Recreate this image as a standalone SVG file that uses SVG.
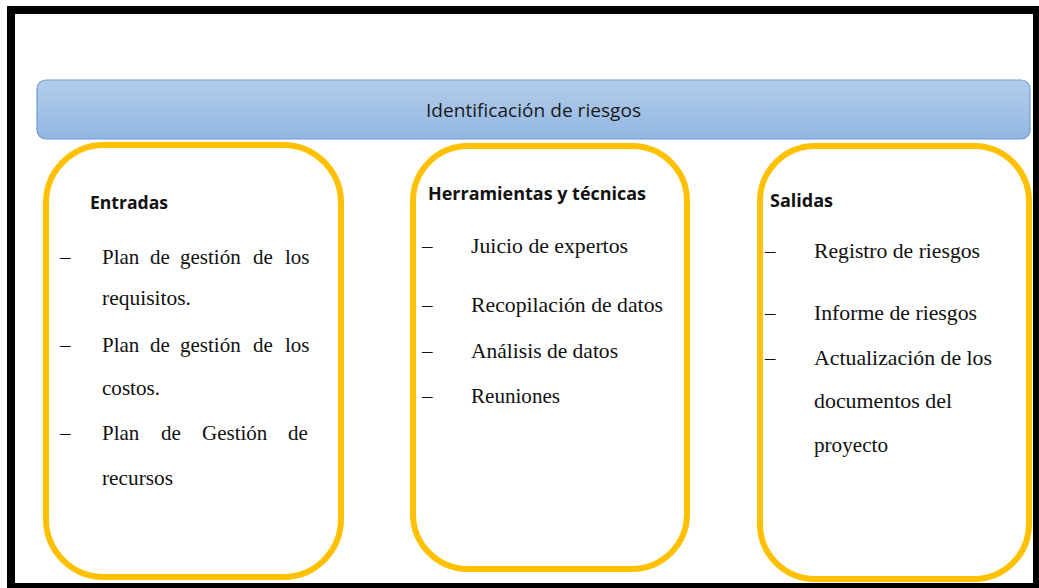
<svg xmlns="http://www.w3.org/2000/svg" width="1039" height="588" viewBox="0 0 1039 588">
<defs>
<linearGradient id="bannerGrad" x1="0" y1="0" x2="0" y2="1">
<stop offset="0" stop-color="#B3CDEA"/>
<stop offset="1" stop-color="#92B7E2"/>
</linearGradient>
<style>
.frame{fill:#FFFFFF;stroke:#000000;stroke-width:8}
.banner{fill:url(#bannerGrad);stroke:#6C9BD2;stroke-width:1.2}
.box{fill:#FFFFFF;stroke:#FFC000;stroke-width:6}
.title{font-family:"Open Sans","Liberation Sans",sans-serif;font-size:19px;fill:#1A1A1A}
.head{font-family:"Open Sans","Liberation Sans",sans-serif;font-size:18px;font-weight:bold;fill:#111111}
.item{font-family:"Liberation Serif","Times New Roman",serif;font-size:21px;fill:#111111}
</style>
</defs>
<rect class="frame" x="11" y="10" width="1026" height="577"/>
<g id="banner">
<rect class="banner" x="37" y="80" width="993" height="59" rx="9" ry="9"/>
<text class="title" x="426" y="117" textLength="215" lengthAdjust="spacingAndGlyphs">Identificación de riesgos</text>
</g>
<g id="entradas">
<rect class="box" x="46" y="145" width="295" height="432" rx="58" ry="58"/>
<text class="head" x="90" y="209" textLength="78" lengthAdjust="spacingAndGlyphs">Entradas</text>
<text class="item" x="60" y="264" fill="#555555">–</text>
<text class="item" y="264"><tspan x="102">Plan</tspan><tspan x="150">de</tspan><tspan x="180">gestión</tspan><tspan x="253">de</tspan><tspan x="285">los</tspan></text>
<text class="item" x="102" y="305" textLength="89" lengthAdjust="spacingAndGlyphs">requisitos.</text>
<text class="item" x="60" y="352">–</text>
<text class="item" y="352"><tspan x="102">Plan</tspan><tspan x="150">de</tspan><tspan x="180">gestión</tspan><tspan x="253">de</tspan><tspan x="285">los</tspan></text>
<text class="item" x="102" y="395" textLength="58" lengthAdjust="spacingAndGlyphs">costos.</text>
<text class="item" x="60" y="440">–</text>
<text class="item" y="440"><tspan x="102">Plan</tspan><tspan x="161">de</tspan><tspan x="202">Gestión</tspan><tspan x="288">de</tspan></text>
<text class="item" x="102" y="485" textLength="71" lengthAdjust="spacingAndGlyphs">recursos</text>
</g>
<g id="herramientas">
<rect class="box" x="413" y="146" width="274" height="423" rx="55" ry="55"/>
<text class="head" x="428" y="200" textLength="218" lengthAdjust="spacingAndGlyphs">Herramientas y técnicas</text>
<text class="item" x="422" y="253">–</text>
<text class="item" x="471" y="253" textLength="157" lengthAdjust="spacingAndGlyphs">Juicio de expertos</text>
<text class="item" x="422" y="312">–</text>
<text class="item" x="471" y="312" textLength="192" lengthAdjust="spacingAndGlyphs">Recopilación de datos</text>
<text class="item" x="422" y="358">–</text>
<text class="item" x="471" y="358" textLength="147" lengthAdjust="spacingAndGlyphs">Análisis de datos</text>
<text class="item" x="422" y="403">–</text>
<text class="item" x="471" y="403" textLength="89" lengthAdjust="spacingAndGlyphs">Reuniones</text>
</g>
<g id="salidas">
<rect class="box" x="760" y="146" width="269" height="433" rx="55" ry="55"/>
<text class="head" x="770" y="207" textLength="63" lengthAdjust="spacingAndGlyphs">Salidas</text>
<text class="item" x="765" y="258">–</text>
<text class="item" x="814" y="258" textLength="166" lengthAdjust="spacingAndGlyphs">Registro de riesgos</text>
<text class="item" x="765" y="320">–</text>
<text class="item" x="814" y="320" textLength="163" lengthAdjust="spacingAndGlyphs">Informe de riesgos</text>
<text class="item" x="765" y="365">–</text>
<text class="item" x="814" y="365" textLength="178" lengthAdjust="spacingAndGlyphs">Actualización de los</text>
<text class="item" x="814" y="408" textLength="138" lengthAdjust="spacingAndGlyphs">documentos del</text>
<text class="item" x="814" y="452" textLength="74" lengthAdjust="spacingAndGlyphs">proyecto</text>
</g>
<g id="connectors"></g>
</svg>
